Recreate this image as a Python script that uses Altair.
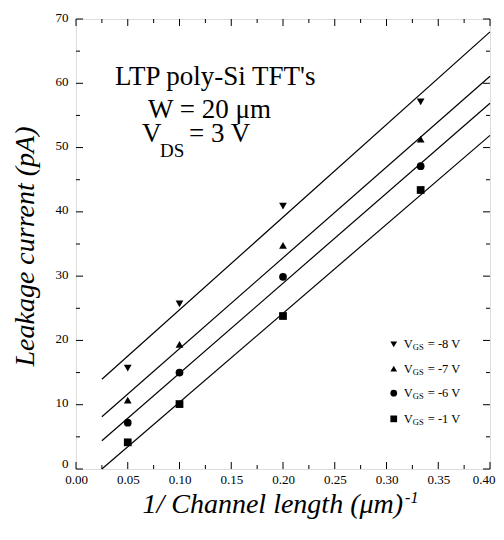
import altair as alt
import pandas as pd

# ---- data ----
inv_len = [0.05, 0.10, 0.20, 0.333]
series = ["-8", "-7", "-6", "-1"]
shapes = ["triangle-down", "triangle-up", "circle", "square"]
leak_m8 = [15.7, 25.7, 40.9, 57.1]
leak_m7 = [10.7, 19.4, 34.8, 51.3]
leak_m6 = [7.2, 15.0, 29.9, 47.1]
leak_m1 = [4.15, 10.1, 23.8, 43.4]

fit_x = [0.025, 0.40]
fit_m8 = [13.95, 68.0]
fit_m7 = [8.13, 61.1]
fit_m6 = [4.4, 56.9]
fit_m1 = [0.0, 51.9]

x_ticks_major = [0.0, 0.05, 0.10, 0.15, 0.20, 0.25, 0.30, 0.35, 0.40]
x_ticks_minor = [0.025, 0.075, 0.125, 0.175, 0.225, 0.275, 0.325, 0.375]
y_ticks_major = [0, 10, 20, 30, 40, 50, 60, 70]
y_ticks_minor = [5, 15, 25, 35, 45, 55, 65]

FONT = "Liberation Serif"
W, H = 414, 450

pts = []
for s, sh, vals in zip(series, shapes, [leak_m8, leak_m7, leak_m6, leak_m1]):
    for xv, yv in zip(inv_len, vals):
        pts.append({"x": xv, "y": yv, "s": s, "shape": sh})
pts = pd.DataFrame(pts)

fits = []
for s, vals in zip(series, [fit_m8, fit_m7, fit_m6, fit_m1]):
    for xv, yv in zip(fit_x, vals):
        fits.append({"x": xv, "y": yv, "s": s})
fits = pd.DataFrame(fits)

xs = alt.Scale(domain=[0, 0.4], nice=False, zero=False)
ys = alt.Scale(domain=[0, 70], nice=False, zero=False)

xaxis = alt.Axis(values=x_ticks_major, format=".2f", ticks=False, domain=False, grid=False,
                 labelFont=FONT, labelFontSize=13, labelColor="black", labelPadding=4,
                 labelFlush=False, labelOverlap=False, title="",
                 labelAlign=alt.condition("datum.value >= 0.399", alt.value("right"), alt.value("center")),
                 labelOffset=alt.condition("datum.value >= 0.399", alt.value(5), alt.value(0)))
yaxis = alt.Axis(values=y_ticks_major, ticks=False, domain=False, grid=False,
                 labelFont=FONT, labelFontSize=13, labelColor="black", labelPadding=8,
                 labelOverlap=False, labelFlush=False,
                 labelOffset=alt.condition("datum.value == 0", alt.value(-6), alt.value(-2)),
                 title="Leakage current (pA)", titleFont=FONT, titleFontStyle="italic",
                 titleFontWeight="normal", titleFontSize=28, titleColor="black",
                 titleAngle=270, titleX=-43, titleY=227, titleBaseline="alphabetic",
                 titleAlign="center")

X = lambda f="x": alt.X(f"{f}:Q", scale=xs, axis=xaxis)
Y = lambda f="y": alt.Y(f"{f}:Q", scale=ys, axis=yaxis)

lines = alt.Chart(fits).mark_line(color="black", strokeWidth=1.2).encode(
    x=X(), y=Y(), detail="s:N")

points = alt.Chart(pts).mark_point(filled=True, color="black", opacity=1, size=60).encode(
    x=X(), y=Y(),
    shape=alt.Shape("shape:N", scale=None, legend=None))

layers = [lines, points]

# inward ticks on all four sides
for vals, ln in [(x_ticks_major, 7), (x_ticks_minor, 4)]:
    d = pd.DataFrame({"v": vals})
    layers.append(alt.Chart(d).mark_rule(color="black", strokeWidth=1).encode(
        x=X("v"), y=alt.value(H), y2=alt.value(H - ln)))
    layers.append(alt.Chart(d).mark_rule(color="black", strokeWidth=1).encode(
        x=X("v"), y=alt.value(0), y2=alt.value(ln)))
for vals, ln in [(y_ticks_major, 7), (y_ticks_minor, 4)]:
    d = pd.DataFrame({"v": vals})
    layers.append(alt.Chart(d).mark_rule(color="black", strokeWidth=1).encode(
        y=Y("v"), x=alt.value(0), x2=alt.value(ln)))
    layers.append(alt.Chart(d).mark_rule(color="black", strokeWidth=1).encode(
        y=Y("v"), x=alt.value(W), x2=alt.value(W - ln)))

# text pieces: annotation block and x-axis title with superscript
texts = [
    # x, y, text, dx, dy, size, align, italic
    (0.0377, 59.7, "LTP poly-Si TFT's", 0, 0, 27, "left", False),
    (0.0696, 54.6, "W = 20 μm", 0, 0, 27, "left", False),
    (0.0638, 50.9, "V", 0, 0, 27, "left", False),
    (0.0638, 50.9, "DS", 18, 15, 19, "left", False),
    (0.0638, 50.9, "= 3 V", 47, 0, 27, "left", False),
    (0.316, -6.84, "1/ Channel length (μm)", 0, 0, 28, "right", True),
    (0.316, -6.84, "-1", 2, -10, 16, "left", True),
]
for (tx, ty, tt, tdx, tdy, tsz, tal, tit) in texts:
    d = pd.DataFrame({"x": [tx], "y": [ty], "t": [tt]})
    layers.append(alt.Chart(d).mark_text(
        font=FONT, fontSize=tsz, align=tal, baseline="alphabetic", color="black",
        fontStyle=("italic" if tit else "normal"), dx=tdx, dy=tdy).encode(
        x=X(), y=Y(), text="t:N"))

# manual legend
leg_x = [0.307, 0.307, 0.307, 0.307]
leg_y = [19.4, 15.6, 11.8, 7.8]
leg = pd.DataFrame({"x": leg_x, "y": leg_y, "shape": shapes,
                    "lab": ["= " + s + " V" for s in series]})
layers.append(alt.Chart(leg).mark_point(filled=True, color="black", opacity=1, size=45).encode(
    x=X(), y=Y(), shape=alt.Shape("shape:N", scale=None, legend=None)))
layers.append(alt.Chart(leg).mark_text(font=FONT, fontSize=12.5, align="left", baseline="middle",
                                       color="black", dx=10).encode(
    x=X(), y=Y(), text=alt.value("V")))
layers.append(alt.Chart(leg).mark_text(font=FONT, fontSize=8.5, align="left", baseline="middle",
                                       color="black", dx=19, dy=3).encode(
    x=X(), y=Y(), text=alt.value("GS")))
layers.append(alt.Chart(leg).mark_text(font=FONT, fontSize=12.5, align="left", baseline="middle",
                                       color="black", dx=34).encode(
    x=X(), y=Y(), text="lab:N"))

chart = alt.layer(*layers).properties(
    width=W, height=H,
    autosize=alt.AutoSizeParams(type="none"),
    padding={"left": 68, "top": 11, "right": 6, "bottom": 60},
).configure_view(stroke="black", strokeWidth=1.5).configure(background="white")

chart.save("out.html", embed_options={"renderer": "svg", "actions": False})
